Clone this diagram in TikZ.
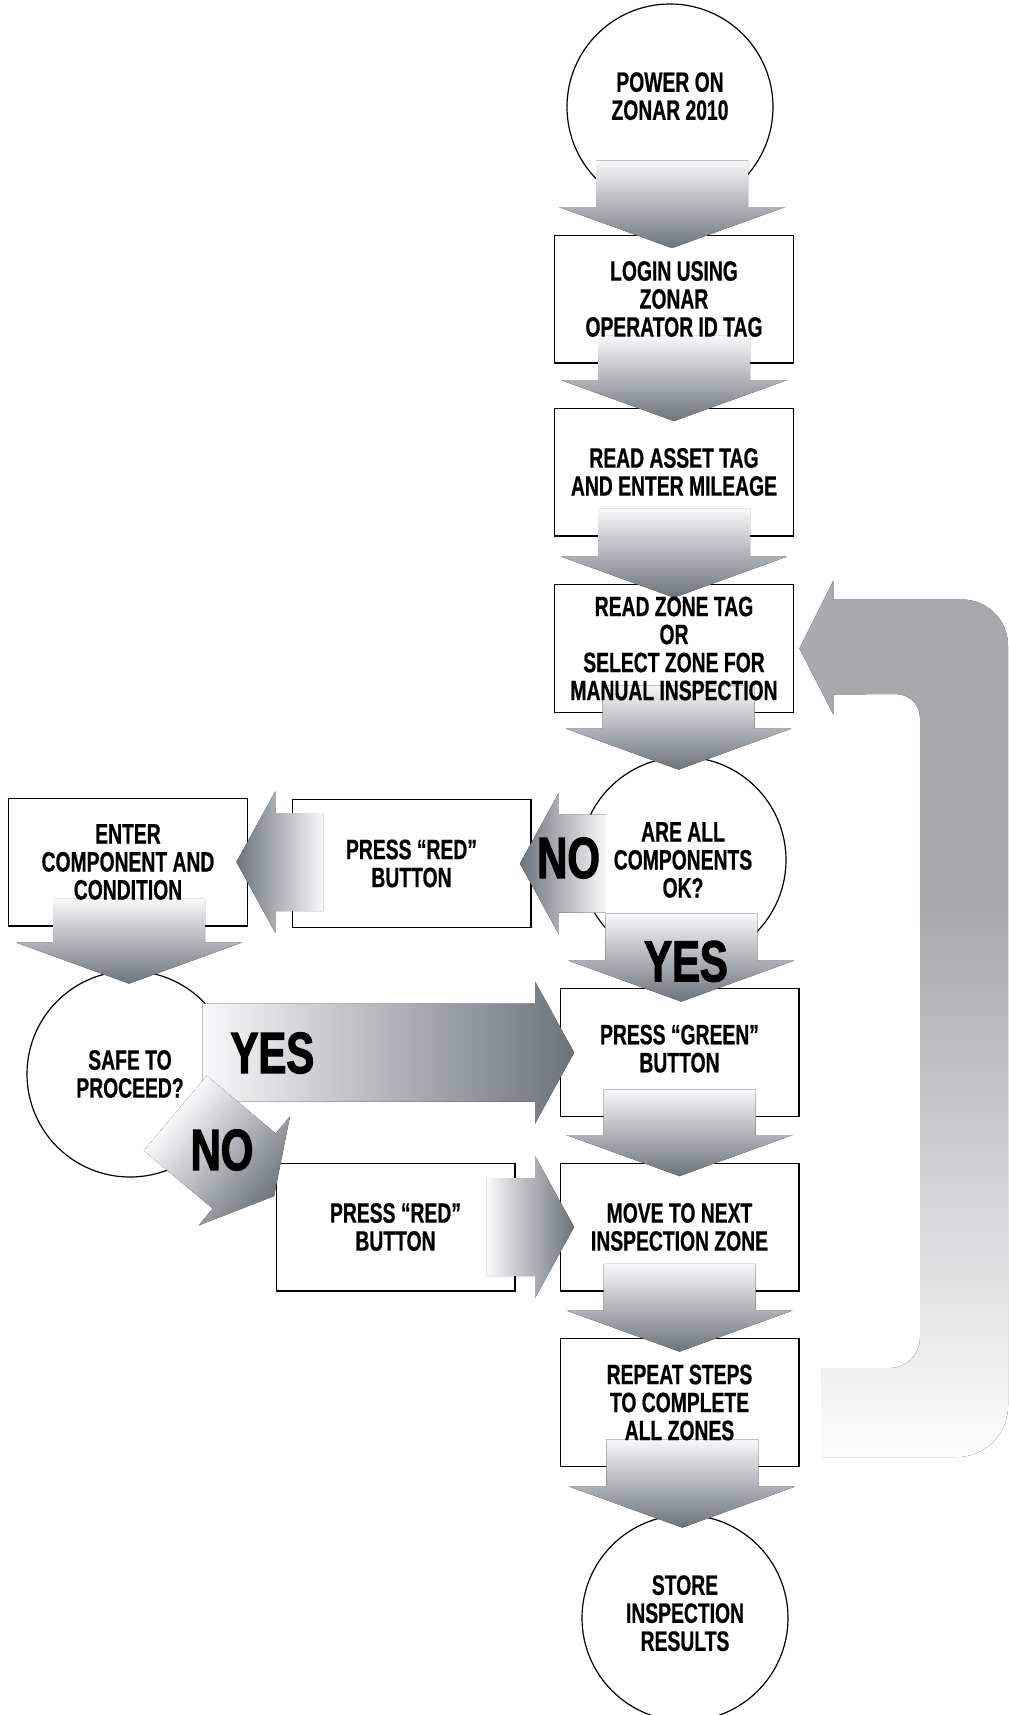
\documentclass[tikz,border=0pt]{standalone}
\usepackage{fontspec}
\usetikzlibrary{calc}
\newfontfamily\boxfont{Liberation Sans}[FakeStretch=0.69,BoldFeatures={FakeBold=0.6}]
\newfontfamily\bigfont{Liberation Sans}[FakeStretch=0.72,BoldFeatures={FakeBold=2}]
\definecolor{arrowdark}{RGB}{108,115,122}
\definecolor{arrowlight}{RGB}{247,248,249}
\definecolor{loopgrey}{RGB}{167,169,172}
\pgfdeclarelayer{shapes}
\pgfdeclarelayer{arrows}
\pgfsetlayers{shapes,arrows,main}
\pgfdeclareverticalshading{loopfade}{100bp}{color(0bp)=(white); color(25bp)=(white!97!loopgrey); color(56bp)=(loopgrey); color(100bp)=(loopgrey)}
\tikzset{
  vfade/.style={top color=arrowlight,bottom color=arrowdark},
  lfade/.style={left color=arrowdark,right color=arrowlight},
  rfade/.style={left color=arrowlight,right color=arrowdark},
}
% fat arrow down: [tail inset]{from}{to}
\newcommand\vfat[3][27]{%
  \coordinate (m) at ($(#2.south)!0.5!(#3.north)$);
  \coordinate (b) at ($(#2.south -| m)+(0,-#1)$);
  \coordinate (t) at ($(#3.north -| m)+(0,13)$);
  \fill[vfade] ($(b)+(-76,0)$) -- ($(t)+(-76,-41)$) -- ($(t)+(-113,-41)$) -- (t)
    -- ($(t)+(113,-41)$) -- ($(t)+(76,-41)$) -- ($(b)+(76,0)$) -- cycle;
}
% fat arrow to the left
\newcommand\lfat[3][28]{%
  \coordinate (b) at ($(#2.west |- #3.east)+(#1,0)$);
  \coordinate (t) at ($(#3.east)+(-11,0)$);
  \fill[lfade] ($(b)+(0,-49)$) -- ($(t)+(39,-49)$) -- ($(t)+(39,-71)$) -- (t)
    -- ($(t)+(39,71)$) -- ($(t)+(39,49)$) -- ($(b)+(0,49)$) -- cycle;
}
% fat arrow to the right
\newcommand\rfat[3][28]{%
  \coordinate (b) at ($(#2.east |- #3.west)+(-#1,0)$);
  \coordinate (t) at ($(#3.west)+(14,0)$);
  \fill[rfade] ($(b)+(0,-49)$) -- ($(t)+(-39,-49)$) -- ($(t)+(-39,-71)$) -- (t)
    -- ($(t)+(-39,71)$) -- ($(t)+(-39,49)$) -- ($(b)+(0,49)$) -- cycle;
}
\begin{document}
\begin{tikzpicture}[x=0.5pt,y=-0.5pt,
    stepbox/.style={minimum width=119pt,minimum height=63.5pt,inner sep=0pt,align=center,
      font=\boxfont\bfseries\fontsize{14}{14}\selectfont},
    stepround/.style={circle,minimum size=103pt,inner sep=0pt,align=center,
      font=\boxfont\bfseries\fontsize{14}{14}\selectfont},
    outline/.style={draw=black,line width=0.6pt},
    biglabel/.style={inner sep=0pt,font=\bigfont\bfseries\fontsize{29}{29}\selectfont}]
  \useasboundingbox (0,0) rectangle (1008,1715);

  \node[stepround,text depth=11pt] (power) at (670,107) {POWER ON\\ZONAR 2010};
  \node[stepbox] (login) at (674,299) {LOGIN USING\\ZONAR\\OPERATOR ID TAG};
  \node[stepbox] (asset) at (674,472) {READ ASSET TAG\\AND ENTER MILEAGE};
  \node[stepbox] (zone) at (674,648.5) {READ ZONE TAG\\OR\\SELECT ZONE FOR\\MANUAL INSPECTION};
  \node[stepround] (compok) at (683,860) {ARE ALL\\COMPONENTS\\OK?};
  \node[stepbox] (redtop) at (411.5,863.5) {PRESS “RED”\\BUTTON};
  \node[stepbox] (enter) at (128,862) {ENTER\\COMPONENT AND\\CONDITION};
  \node[stepround] (safe) at (130,1074) {SAFE TO\\PROCEED?};
  \node[stepbox,text depth=4pt] (green) at (679.5,1052.5) {PRESS “GREEN”\\BUTTON};
  \node[stepbox] (redbot) at (395.5,1227) {PRESS “RED”\\BUTTON};
  \node[stepbox] (move) at (679.5,1227) {MOVE TO NEXT\\INSPECTION ZONE};
  \node[stepbox] (repeat) at (679.5,1402.5) {REPEAT STEPS\\TO COMPLETE\\ALL ZONES};
  \node[stepround,text depth=5pt] (store) at (685,1618) {STORE\\INSPECTION\\RESULTS};

  \begin{pgfonlayer}{shapes}
    \foreach \n in {login,asset,zone,redtop,enter,green,redbot,move,repeat}
      \draw[outline] (\n.north west) rectangle (\n.south east);
    \foreach \n in {power,compok,safe,store}
      \draw[outline] (\n.center) circle[radius=51.5pt];
  \end{pgfonlayer}

  \begin{pgfonlayer}{arrows}
    \vfat[50]{power}{login}
    \vfat{login}{asset}
    \vfat{asset}{zone}
    \vfat{zone}{compok}
    \vfat[50]{compok}{green}
    \vfat{green}{move}
    \vfat{move}{repeat}
    \vfat{repeat}{store}
    \vfat{enter}{safe}
    \lfat[26]{compok}{redtop}
    \lfat[31]{redtop}{enter}
    \rfat[31]{safe}{green}
    \rfat{redbot}{move}
    \begin{scope}[transform canvas={shift={($(redbot.north west)+(-2,33)$)},rotate=-40}]
      \fill[rfade] (0,0) -- (-39,-71) -- (-39,-49) -- (-129,-49) -- (-129,49) -- (-39,49) -- (-39,71) -- cycle;
    \end{scope}
    \fill[shading=loopfade] ($(zone.east)+(6,0)$) coordinate (lt) -- ++(34,-68) -- ++(0,19)
      -- (962,599.5) arc[start angle=-90,end angle=0,radius=46] -- (1008,1406)
      arc[start angle=0,end angle=90,radius=51] -- (821,1457) -- (821,1368) -- (890,1368)
      arc[start angle=90,end angle=0,radius=30] -- (920,718)
      arc[start angle=0,end angle=-90,radius=24] -- ($(lt)+(34,46)$) -- ++(0,20) -- cycle;
  \end{pgfonlayer}

  \node[biglabel] (noleft) at ($(compok.west)+(-11,-2)$) {NO};
  \node[biglabel] (yesdown) at ($(compok.south)+(3,-2)$) {YES};
  \node[biglabel] (yesright) at ($(safe.east)+(39,-21)$) {YES};
  \node[biglabel] (nodiag) at ($(safe.center)+(92,76)$) {NO};
\end{tikzpicture}
\end{document}
